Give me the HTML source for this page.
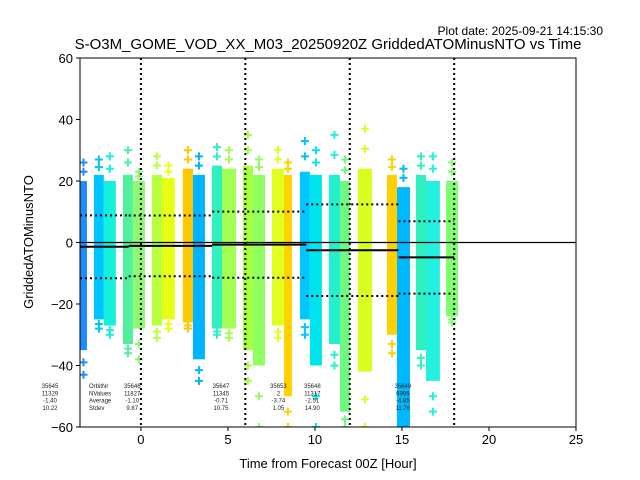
<!DOCTYPE html>
<html><head><meta charset="utf-8"><style>
html,body{margin:0;padding:0;background:#fff;}
svg{display:block;font-family:"Liberation Sans","DejaVu Sans",sans-serif;}
</style></head><body>
<svg id="chart" width="640" height="480" viewBox="0 0 640 480">
<text x="603" y="35" font-size="12" text-anchor="end">Plot date: 2025-09-21 14:15:30</text>
<text x="328" y="49" font-size="15" text-anchor="middle">S-O3M_GOME_VOD_XX_M03_20250920Z GriddedATOMinusNTO vs Time</text>
<text x="328" y="468" font-size="13" text-anchor="middle">Time from Forecast 00Z [Hour]</text>
<text x="33" y="242" font-size="13" text-anchor="middle" transform="rotate(-90 33 242)">GriddedATOMinusNTO</text>
<g id="plot"></g>
</svg>
<script>
const bandStart=[-3.5,-2.7,-2.13,-1.03,-0.46,0.63,1.21,2.41,2.99,4.08,4.66,5.86,6.44,7.53,8.22,9.14,9.71,10.8,11.44,12.47,14.14,14.71,15.8,16.38,17.53];
const bandEnd=[-3.1,-2.13,-1.44,-0.46,0.23,1.21,1.95,2.99,3.68,4.66,5.46,6.44,7.13,8.22,8.68,9.71,10.4,11.44,12.01,13.28,14.71,15.46,16.38,17.18,18.22];
const denseTop=[20,22,20,22,20,22,21,24,22,25,24,25,22,24,22,23,22,22,20,24,22,18,22,20,20];
const denseBottom=[-35,-25,-27,-33,-28,-27,-25,-26,-38,-28,-28,-35,-40,-27,-50,-25,-40,-33,-55,-42,-30,-60,-35,-45,-24];
const maxVal=[26,27,28,30,23,28,25,30,28,31,30,35,27,30,26,33,30,35,27,37,27,24,28,28,26];
const minVal=[-43,-28,-30,-36,-38,-31,-28,-28,-45,-30,-31,-45,-60,-31,-60,-30,-60,-40,-60,-60,-36,-60,-40,-55,-26];
const bandColors=['#1e8cff','#00c4ff','#14f0dc','#50f0a0','#90f870','#b8ff40','#e8ff14','#ffc800','#00b4ff','#30f0c0','#a0ff50','#a8ff40','#90ff60','#e0ff20','#ffd200','#00c8ff','#00e4ee','#24f0d0','#70f880','#d8ff20','#ffd000','#00b8ff','#30f0c0','#24f0e0','#80ff70'];
const segStart=[-3.5,-0.7,4.1,9.5,14.8];
const segEnd=[-0.7,4.1,9.5,14.8,18.0];
const segMean=[-1.40,-1.10,-0.71,-2.51,-4.85];
const segStd=[10.22,9.87,10.75,14.90,11.76];
const xTicks=[0,5,10,15,20,25];
const yTicks=[-60,-40,-20,0,20,40,60];
const vLines=[0,6,12,18];
const annX=[-3.5,-0.5,4.6,7.9,9.85,15.05];
const annLines=[["35645","11329","-1.40","10.22"],["35646","11827","-1.10","9.87"],["35647","11345","-0.71","10.75"],["35653","2","-3.74","1.05"],["35648","11317","-2.51","14.90"],["35649","6995","-4.85","11.76"]];
const L=80,R=576,T=58,B=427,xmin=-3.5,xmax=25,ymin=-60,ymax=60;
const X=v=>L+(v-xmin)/(xmax-xmin)*(R-L);
const Y=v=>B-(v-ymin)/(ymax-ymin)*(B-T);
const NS='http://www.w3.org/2000/svg';
const g=document.getElementById('plot');
function mk(tag,attrs,parent){const e=document.createElementNS(NS,tag);for(const k in attrs)e.setAttribute(k,attrs[k]);(parent||g).appendChild(e);return e;}
const clip=mk('clipPath',{id:'cp'});mk('rect',{x:L,y:T,width:R-L,height:B-T},clip);
const data=mk('g',{'clip-path':'url(#cp)'});


for(let i=0;i<bandStart.length;i++){
  const x0=X(bandStart[i]),x1=X(bandEnd[i]),c=bandColors[i];
  const r=mk('rect',{x:x0,y:Y(denseTop[i]),width:x1-x0,height:Y(denseBottom[i])-Y(denseTop[i]),fill:c},data);
  
  
  const cx=(x0+x1)/2;
  const pts=[maxVal[i],(maxVal[i]+denseTop[i])/2,minVal[i],(minVal[i]+denseBottom[i])/2];
  pts.forEach(v=>{
    const p=mk('path',{d:`M${cx-4},${Y(v)}h8M${cx},${Y(v)-4}v8`,stroke:c,'stroke-width':2},data);
    
    
  });
}
// zero line
const z=mk('line',{x1:L,x2:R,y1:Y(0),y2:Y(0),stroke:'#000','stroke-width':1.2});


for(let i=0;i<segStart.length;i++){
  const m=mk('line',{x1:X(segStart[i]),x2:X(segEnd[i]),y1:Y(segMean[i]),y2:Y(segMean[i]),stroke:'#000','stroke-width':2});
  
  
  [segMean[i]+segStd[i],segMean[i]-segStd[i]].forEach(v=>{
    const d=mk('line',{x1:X(segStart[i]),x2:X(segEnd[i]),y1:Y(v),y2:Y(v),stroke:'#000','stroke-width':2,'stroke-dasharray':'2,3'});
    
    
  });
}
vLines.forEach(v=>{
  const l=mk('line',{x1:X(v),x2:X(v),y1:T,y2:B,stroke:'#000','stroke-width':2,'stroke-dasharray':'2,3'});
  
  
});
// annotations
const lab=mk('text',{x:89,y:388,'font-size':6,fill:'#222'});


['OrbitNr','NValues','Average','Stdev'].forEach((s,j)=>{const t=mk('tspan',{x:89,y:388+j*7.3},lab);t.textContent=s;});
for(let i=0;i<annX.length;i++){
  const t=mk('text',{'font-size':6,fill:'#222','text-anchor':'middle'});
  
  
  annLines[i].forEach((s,j)=>{const sp=mk('tspan',{x:X(annX[i])+(i==0?-30:0)+ (i==0?0:0),y:388+j*7.3},t);sp.textContent=s;});
}
// frame
const f=mk('rect',{x:L,y:T,width:R-L,height:B-T,fill:'none',stroke:'#000','stroke-width':1});


xTicks.forEach(v=>{
  mk('line',{x1:X(v),x2:X(v),y1:B,y2:B+4,stroke:'#000'});
  const t=mk('text',{x:X(v),y:B+17,'font-size':13,'text-anchor':'middle'});
  t.textContent=v;
  
  
});
yTicks.forEach(v=>{
  mk('line',{x1:L-4,x2:L,y1:Y(v),y2:Y(v),stroke:'#000'});
  const t=mk('text',{x:L-7,y:Y(v)+5,'font-size':13,'text-anchor':'end'});
  t.textContent=v<0?'\u2212'+(-v):v;
  
  
});
</script>
</body></html>
